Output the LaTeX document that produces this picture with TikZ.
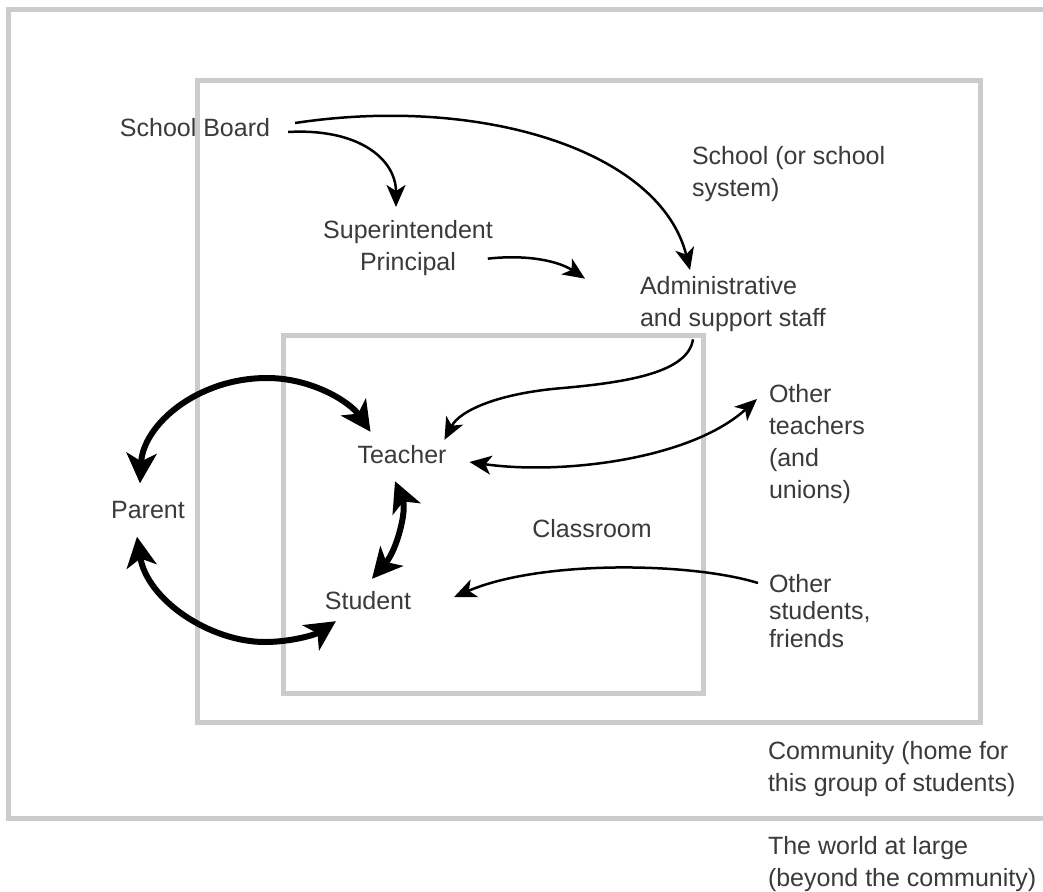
\documentclass[tikz,border=0pt]{standalone}
\usepackage{fontspec}
\setmainfont{Liberation Sans}
\usetikzlibrary{arrows.meta,calc}
\definecolor{frame}{HTML}{CCCCCC}
\definecolor{ink}{HTML}{3A3A3A}
\begin{document}
\begin{tikzpicture}[x=1pt,y=-1pt,
  lbl/.style={inner sep=0pt,outer sep=0pt,text=ink,font=\fontsize{25}{32}\selectfont},
  lblL/.style={lbl,align=left,anchor=north west},
  boxline/.style={draw=frame,line width=5pt},
  thin/.style={line width=2.5pt,-{Stealth[length=22pt,width=19pt,inset=6pt]}},
  thinboth/.style={line width=2.5pt,{Stealth[length=22pt,width=19pt,inset=6pt]}-{Stealth[length=22pt,width=19pt,inset=6pt]}},
  thick/.style={line width=6pt,{Stealth[length=30pt,width=30pt,inset=8pt]}-{Stealth[length=30pt,width=30pt,inset=8pt]}}]
\useasboundingbox (0,0) rectangle (1043,891);
\fill[white] (0,0) rectangle (1043,891);

% nested frames: world, school, classroom
\draw[boxline] (1043,10) -- (8,10) -- (8,818) -- (1043,818);
\draw[boxline] (197,80) rectangle (980,722);
\draw[boxline] (283,335) rectangle (703,693);

% labels
\node[lbl] (board) at (195,128) {School Board};
\node[lbl,align=center,anchor=north] (super) at (408,220) {Superintendent\\Principal};
\node[lblL] (school) at (692,146) {School (or school\\system)};
\node[lblL] (admin) at (640,276) {Administrative\\and support staff};
\node[lblL] (othert) at (769,384) {Other\\teachers\\(and\\unions)};
\node[lbl] (teacher) at (402,455) {Teacher};
\node[lbl] (parent) at (148,510) {Parent};
\node[lbl] (classroom) at (592,529) {Classroom};
\node[lbl] (student) at (368,601) {Student};
\node[lblL,font=\fontsize{25}{27.5}\selectfont] (others) at (769,574) {Other\\students,\\friends};
\node[lblL] (community) at (768,741) {Community (home for\\this group of students)};
\node[lblL] (world) at (768,836) {The world at large\\(beyond the community)};

% school hierarchy
\draw[thin] ($(board.east)+(25,-5)$) .. controls (480,95) and (660,150) .. ($(admin.north west)+(50,-6)$);
\draw[thin] ($(board.east)+(18,4)$) .. controls (360,128) and (396,160) .. ($(super.north)+(-12,-13)$);
\draw[thin] ($(super.east)+(-5,11)$) .. controls (530,254) and (560,262) .. ($(admin.west)+(-55,-25)$);
\draw[thin] ($(admin.south west)+(53,8)$) .. controls (688,372) and (630,382) .. (563,388)
  .. controls (500,393) and (460,410) .. ($(teacher.north east)+(-2,-6)$);

% outside contacts
\draw[thinboth] ($(teacher.east)+(23,7)$) .. controls (560,475) and (690,460) .. ($(othert.north west)+(-12,15)$);
\draw[thin] ($(others.north west)+(-11,9)$) .. controls (690,562) and (540,560) .. ($(student.east)+(43,-4)$);

% parent / teacher / student cycle
\draw[thick] ($(parent.north)+(-8,-18)$) .. controls (143,425) and (197,378) .. (267,378)
  .. controls (312,378) and (350,402) .. ($(teacher.north west)+(13,-14)$);
\draw[thick] ($(parent.south)+(-11,18)$) .. controls (147,600) and (210,642) .. (265,642)
  .. controls (290,642) and (315,635) .. ($(student.south west)+(11,11)$);
\draw[thick] ($(teacher.south)+(-7,17)$) .. controls (407,510) and (397,550) .. ($(student.north)+(4,-13)$);
\end{tikzpicture}
\end{document}
